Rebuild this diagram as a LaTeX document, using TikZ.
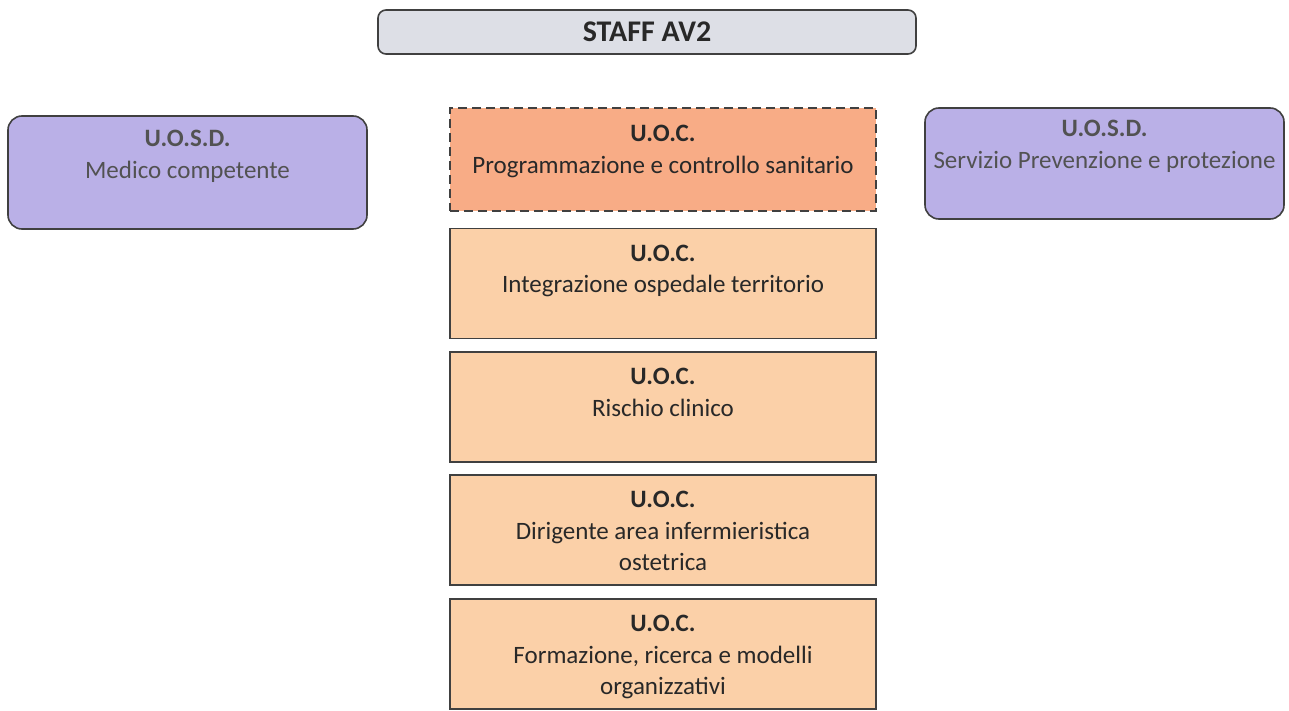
\documentclass[tikz,border=0pt]{standalone}
\usepackage{fontspec}
\setmainfont{Carlito}
\usetikzlibrary{positioning}
\definecolor{headgray}{RGB}{221,223,230}
\definecolor{uosdviolet}{RGB}{186,176,231}
\definecolor{uocdark}{RGB}{248,172,134}
\definecolor{uoclight}{RGB}{251,208,168}
\definecolor{txtgray}{RGB}{40,40,40}
\begin{document}
\begin{tikzpicture}[
    x=1pt, y=-1pt,
    unit/.style={rectangle, draw=black!75, line width=1.6pt, minimum width=426pt, minimum height=110pt, fill=uoclight},
    side/.style={unit, rounded corners=14pt, fill=uosdviolet, minimum width=359pt},
    label/.style={font=\fontsize{25}{31.5}\selectfont, text=txtgray, align=center, inner sep=0pt, anchor=north}
]
    \useasboundingbox (0,0) rectangle (1289,711);

    % Header
    \node[unit, rounded corners=8pt, fill=headgray, minimum width=538pt, minimum height=44pt] (staff) at (647,32) {};
    \node[font=\fontsize{30}{34}\selectfont\bfseries, text=txtgray] (stafftxt) at (staff.center) {STAFF AV2};

    % Side units
    \node[side, minimum height=113pt] (medico) at (187.5,172.5) {};
    \node[label, text=black!68, below=15pt of medico.north] (medicotxt) {\textbf{U.O.S.D.}\\Medico competente};

    \node[side, minimum height=111pt] (spp) at (1104.5,163.5) {};
    \node[label, text=black!68, below=13pt of spp.north] (spptxt) {\textbf{U.O.S.D.}\\Servizio Prevenzione e protezione};

    % Central column
    \node[unit, dashed, dash pattern=on 9pt off 5pt, fill=uocdark, minimum height=103pt] (prog) at (663,159.5) {};
    \node[label, below=18pt of prog.north] (progtxt) {\textbf{U.O.C.}\\Programmazione e controllo sanitario};

    \node[unit] (integr) at (663,283.5) {};
    \node[label, below=17pt of integr.north] (integrtxt) {\textbf{U.O.C.}\\Integrazione ospedale territorio};

    \node[unit] (rischio) at (663,407) {};
    \node[label, below=17pt of rischio.north] (rischiotxt) {\textbf{U.O.C.}\\Rischio clinico};

    \node[unit] (dirig) at (663,530) {};
    \node[label, below=17pt of dirig.north] (dirigtxt) {\textbf{U.O.C.}\\Dirigente area infermieristica\\ostetrica};

    \node[unit] (form) at (663,654) {};
    \node[label, below=17pt of form.north] (formtxt) {\textbf{U.O.C.}\\Formazione, ricerca e modelli\\organizzativi};
\end{tikzpicture}
\end{document}
